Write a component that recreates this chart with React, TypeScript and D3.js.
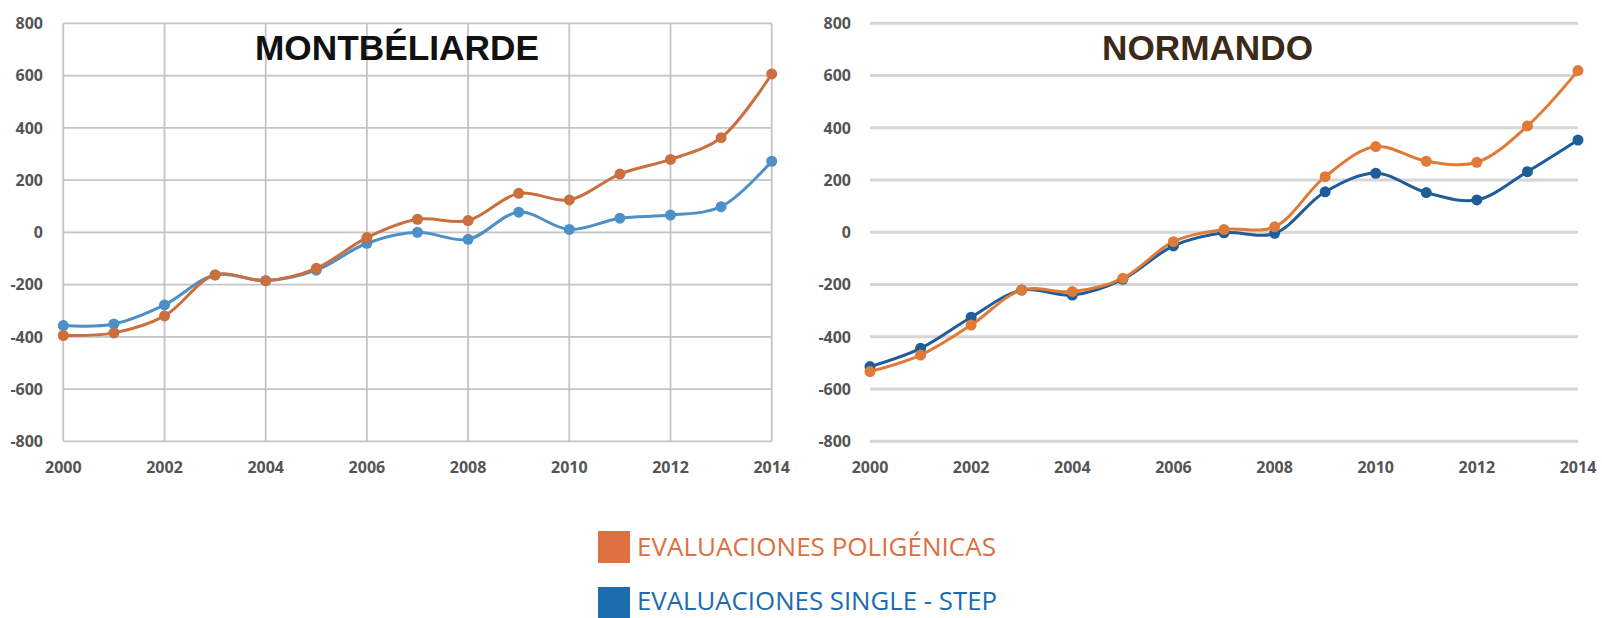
import React from "react";
import * as d3 from "d3";

const years = [2000, 2001, 2002, 2003, 2004, 2005, 2006, 2007, 2008, 2009, 2010, 2011, 2012, 2013, 2014];
const yTicks = [800, 600, 400, 200, 0, -200, -400, -600, -800];
const xTicks = [2000, 2002, 2004, 2006, 2008, 2010, 2012, 2014];

const montPoli = [-395, -385, -320, -163, -185, -138, -20, 50, 45, 149, 124, 223, 279, 362, 606];
const montSingle = [-357, -351, -278, -163, -185, -145, -42, 0, -27, 77, 11, 54, 66, 98, 272];

const normPoli = [-533, -470, -355, -221, -227, -176, -36, 11, 21, 213, 328, 272, 268, 407, 619];
const normSingle = [-514, -444, -325, -221, -240, -180, -52, -2, -4, 155, 226, 152, 124, 232, 353];

const legendLabels = ["EVALUACIONES POLIGÉNICAS", "EVALUACIONES SINGLE - STEP"];

const TICK_FONT = "'Open Sans', 'DejaVu Sans', sans-serif";

function Panel({ x0, x1, labelRight, title, titleX, titleColor, titleLen, poli, single, poliColor, singleColor, boxed }) {
  const x = d3.scaleLinear().domain([2000, 2014]).range([x0, x1]);
  const y = d3.scaleLinear().domain([-800, 800]).range([441.3, 23.3]);
  const line = d3
    .line<number>()
    .x((_, i) => x(years[i]))
    .y((d) => y(d))
    .curve(d3.curveCatmullRom.alpha(0.5));
  const gridColor = boxed ? "#c4c4c4" : "#d6d6d6";
  const gridW = boxed ? 1.8 : 3;
  return (
    <g>
      {yTicks.map((t) => (
        <line key={"h" + t} x1={x0} x2={x1} y1={y(t)} y2={y(t)} stroke={gridColor} strokeWidth={gridW} />
      ))}
      {boxed &&
        xTicks.map((t) => (
          <line key={"v" + t} x1={x(t)} x2={x(t)} y1={y(800)} y2={y(-800)} stroke={gridColor} strokeWidth={gridW} />
        ))}
      {yTicks.map((t) => (
        <text
          key={"yl" + t}
          x={labelRight}
          y={y(t)}
          dy="0.36em"
          textAnchor="end"
          fontFamily={TICK_FONT}
          fontWeight={700}
          fontSize={16}
          fill="#555555"
        >
          {t}
        </text>
      ))}
      {xTicks.map((t) => (
        <text
          key={"xl" + t}
          x={x(t)}
          y={473}
          textAnchor="middle"
          fontFamily={TICK_FONT}
          fontWeight={700}
          fontSize={16}
          fill="#555555"
        >
          {t}
        </text>
      ))}
      <text
        x={titleX}
        y={60}
        fontFamily="'Liberation Sans', Arial, sans-serif"
        fontWeight={700}
        fontSize={35}
        fill={titleColor}
        textLength={titleLen}
        lengthAdjust="spacingAndGlyphs"
      >
        {title}
      </text>
      <path d={line(single) || ""} fill="none" stroke={singleColor} strokeWidth={3} />
      <path d={line(poli) || ""} fill="none" stroke={poliColor} strokeWidth={3} />
      {single.map((v, i) => (
        <circle key={"s" + i} cx={x(years[i])} cy={y(v)} r={5.5} fill={singleColor} />
      ))}
      {poli.map((v, i) => (
        <circle key={"p" + i} cx={x(years[i])} cy={y(v)} r={5.5} fill={poliColor} />
      ))}
    </g>
  );
}

export default function App() {
  return (
    <svg
      width={1602}
      height={618}
      style={{ position: "absolute", left: 0, top: 0, background: "#ffffff" }}
    >
      <rect x={0} y={0} width={1602} height={618} fill="#ffffff" />
      <Panel
        x0={63.3}
        x1={771.7}
        labelRight={43}
        title="MONTBÉLIARDE"
        titleX={255}
        titleColor="#111111"
        titleLen={284}
        poli={montPoli}
        single={montSingle}
        poliColor="#c9703e"
        singleColor="#4d8fc6"
        boxed={true}
      />
      <Panel
        x0={870}
        x1={1578}
        labelRight={851}
        title="NORMANDO"
        titleX={1102}
        titleColor="#3b2a17"
        titleLen={211}
        poli={normPoli}
        single={normSingle}
        poliColor="#e07a38"
        singleColor="#1f5d98"
        boxed={false}
      />
      <rect x={598} y={531} width={32} height={32} fill="#dc7040" />
      <text
        x={637}
        y={556}
        fontFamily="'Open Sans', sans-serif"
        fontSize={26}
        fill="#dc7040"
        textLength={359}
        lengthAdjust="spacingAndGlyphs"
      >
        {legendLabels[0]}
      </text>
      <rect x={598} y={587} width={32} height={31} fill="#1c6cb0" />
      <text
        x={637}
        y={610}
        fontFamily="'Open Sans', sans-serif"
        fontSize={25}
        fill="#1c6cb0"
        textLength={360}
        lengthAdjust="spacingAndGlyphs"
      >
        {legendLabels[1]}
      </text>
    </svg>
  );
}
